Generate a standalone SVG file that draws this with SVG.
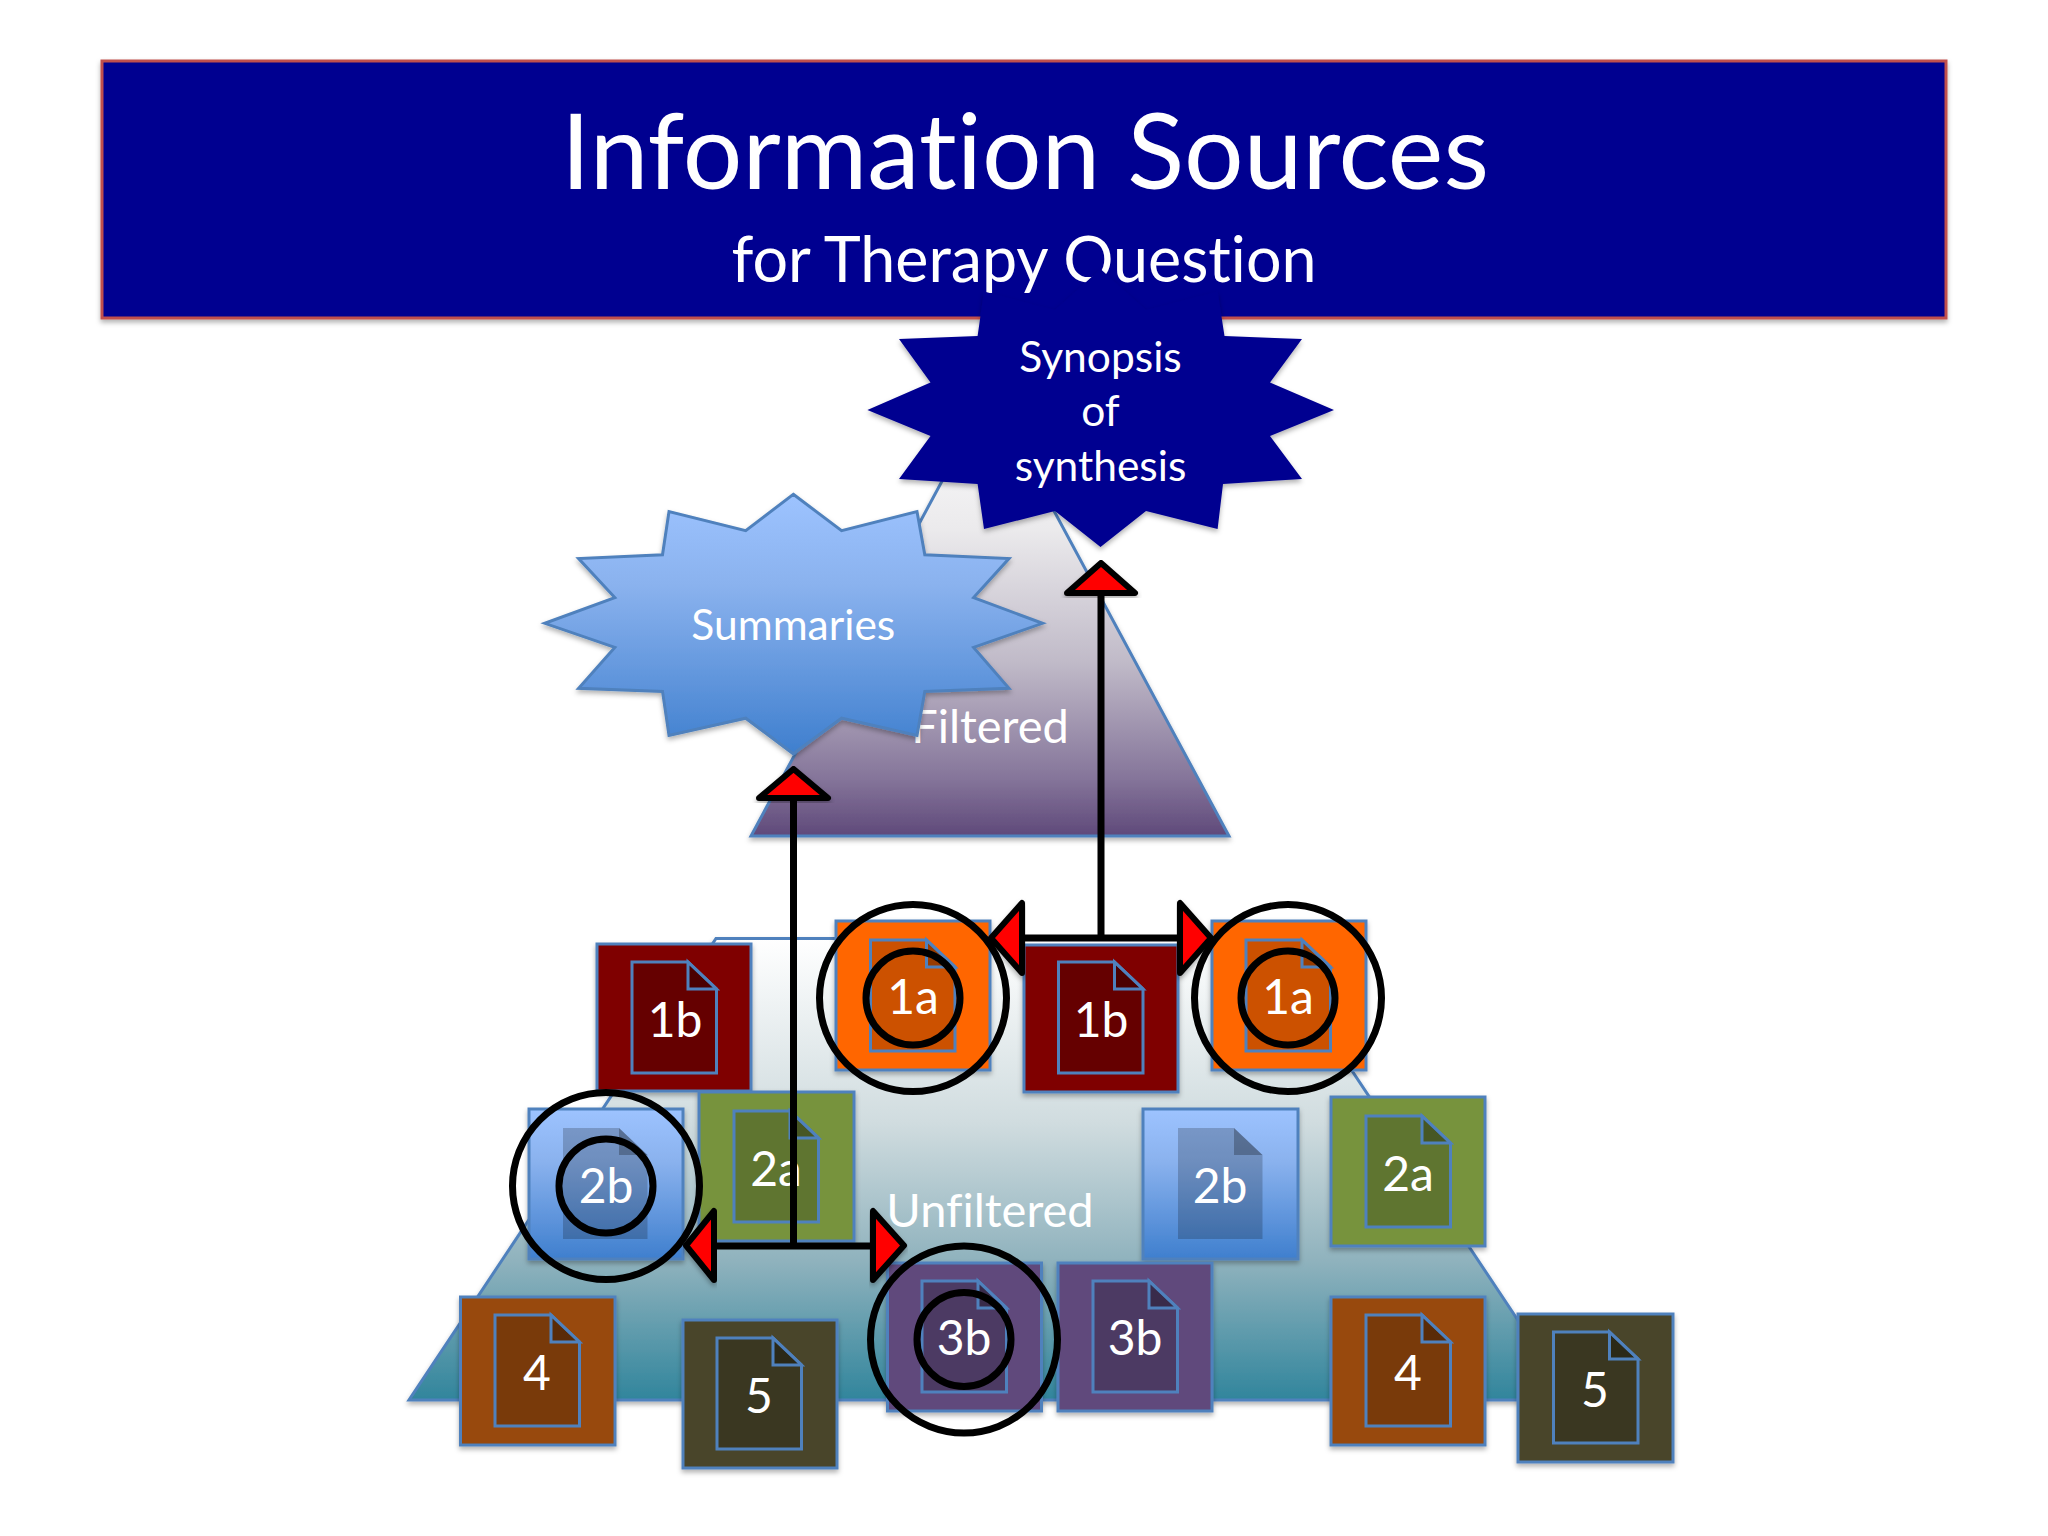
<svg xmlns="http://www.w3.org/2000/svg" width="2048" height="1536" viewBox="0 0 2048 1536">
<style>
text{font-family:"Lato","Carlito","Liberation Sans",sans-serif;fill:#fff;text-anchor:middle;font-variant-ligatures:none}
.lbl{font-size:48px}
.big{font-size:42.500px}
.tier{font-size:47px}
.box{stroke:#4f81bd;stroke-width:3;filter:url(#sh)}
.ring{fill:none;stroke:#000;stroke-width:7}
.line{fill:none;stroke:#000;stroke-width:7}
.head{fill:#f00;stroke:#000;stroke-width:6;stroke-linejoin:round;filter:url(#sh)}
.c1b{fill:#7f0000}.c1a{fill:#ff6600}.c2b{fill:url(#gb)}.c2a{fill:#77933c}.c3b{fill:#604a7b}.c4{fill:#984807}.c5{fill:#494429}
</style>
<defs>
<filter id="sh" x="-10%" y="-10%" width="120%" height="125%"><feDropShadow dx="0" dy="3" stdDeviation="2.5" flood-color="#000" flood-opacity="0.3"/></filter>
<linearGradient id="gb" x1="0" y1="0" x2="0" y2="1"><stop offset="0" stop-color="#9dc3ff"/><stop offset=".35" stop-color="#8ab2ee"/><stop offset="1" stop-color="#3f7fce"/></linearGradient>
<linearGradient id="gf" x1="0" y1="0" x2="0" y2="1"><stop offset="0" stop-color="#ffffff"/><stop offset=".31" stop-color="#ebeaec"/><stop offset=".61" stop-color="#c0bac8"/><stop offset=".87" stop-color="#85759a"/><stop offset="1" stop-color="#5f497a"/></linearGradient>
<linearGradient id="gu" x1="0" y1="0" x2="0" y2="1"><stop offset="0" stop-color="#ffffff"/><stop offset=".4" stop-color="#d0dcdf"/><stop offset=".7" stop-color="#8fb2bd"/><stop offset="1" stop-color="#31859c"/></linearGradient>
<g id="doc">
<path d="M0 0H56L84.500 27V111H0Z" fill="#000" fill-opacity=".2" stroke="#4f81bd" stroke-width="3"/>
<path d="M56 0V27H84.500Z" fill="#000" fill-opacity=".25" stroke="#4f81bd" stroke-width="3"/>
</g>
<g id="doc-plain">
<path d="M0 0H56L84.500 27V111H0Z" fill="#000" fill-opacity=".2"/>
<path d="M56 0V27H84.500Z" fill="#000" fill-opacity=".25"/>
</g>
</defs>
<rect width="2048" height="1536" fill="#fff"/>

<g id="pyramid-unfiltered">
<polygon points="716,938.500 1264,938.500 1571,1400 409,1400" fill="url(#gu)" stroke="#4f81bd" stroke-width="3" filter="url(#sh)"/>
<text class="tier" x="990" y="1227">Unfiltered</text>
</g>
<g id="pyramid-filtered">
<polygon points="990,392 1229,836 751,836" fill="url(#gf)" stroke="#4f81bd" stroke-width="3" filter="url(#sh)"/>
<text class="tier" x="990" y="743">Filtered</text>
</g>

<g id="banner">
<rect x="102" y="61" width="1844" height="257" fill="#000090" stroke="#c0504d" stroke-width="3" filter="url(#sh)"/>
<text x="1025" y="189" font-size="104" textLength="928" lengthAdjust="spacingAndGlyphs">Information Sources</text>
<text x="1024" y="282" font-size="63" textLength="585" lengthAdjust="spacingAndGlyphs">for Therapy Question</text>
</g>

<g id="star-synopsis">
<polygon points="1100.500,269 1146,310 1217.600,291.500 1224.500,336 1302,339 1270,382.600 1334,410 1270,436 1302,479 1223,484 1217.600,529 1146,511 1100.500,547 1055,511 984,529 977.600,484 899,479 930.500,436 867.400,410 930.500,382.600 899,339 977.600,336 984,291.500 1055,310" fill="#000090" filter="url(#sh)"/>
<text class="big" x="1100.500" y="372">Synopsis</text>
<text class="big" x="1100.500" y="426">of</text>
<text class="big" x="1100.500" y="481">synthesis</text>
</g>

<g id="star-summaries">
<polygon points="793.300,494.300 841.600,530.700 917,511.500 924.800,554.800 1009,558.600 973.600,597.600 1042.500,623.300 973.600,647.400 1009,688.300 924.800,691.400 917,735.400 841.600,718.200 793.300,753.800 745.700,718.200 669,735.400 662.500,691.400 578.600,688.300 614.800,647.400 544.800,623.300 614.800,597.600 578.600,558.600 662.500,554.800 669,511.500 745.700,530.700" fill="url(#gb)" stroke="#4f81bd" stroke-width="3" filter="url(#sh)"/>
<text class="big" x="793.300" y="640">Summaries</text>
</g>

<g id="doc-1b-left"><rect class="box c1b" x="597" y="944" width="154" height="147"/><use href="#doc" x="632" y="962"/><text class="lbl" x="675" y="1037">1b</text></g>
<g id="doc-1a-left"><rect class="box c1a" x="836" y="921" width="154" height="149"/><use href="#doc" x="870.500" y="940"/><text class="lbl" x="913" y="1014">1a</text></g>
<g id="doc-1b-mid"><rect class="box c1b" x="1024" y="945" width="154" height="147"/><use href="#doc" x="1058.500" y="962"/><text class="lbl" x="1101" y="1037">1b</text></g>
<g id="doc-1a-right"><rect class="box c1a" x="1212" y="921" width="154" height="149"/><use href="#doc" x="1246" y="940"/><text class="lbl" x="1288" y="1014">1a</text></g>
<g id="doc-2b-left"><rect class="box c2b" x="529" y="1109" width="154" height="150"/><use href="#doc-plain" x="563" y="1128"/><text class="lbl" x="606" y="1203">2b</text></g>
<g id="doc-2a-left"><rect class="box c2a" x="699" y="1092" width="155" height="149"/><use href="#doc" x="734" y="1111"/><text class="lbl" x="776" y="1186">2a</text></g>
<g id="doc-2b-right"><rect class="box c2b" x="1143" y="1109" width="155" height="150"/><use href="#doc-plain" x="1178" y="1128"/><text class="lbl" x="1220" y="1203">2b</text></g>
<g id="doc-2a-right"><rect class="box c2a" x="1331" y="1097" width="154" height="149"/><use href="#doc" x="1366" y="1116"/><text class="lbl" x="1408" y="1191">2a</text></g>
<g id="doc-3b-left"><rect class="box c3b" x="887.500" y="1263" width="154" height="148"/><use href="#doc" x="922" y="1281"/><text class="lbl" x="964" y="1355">3b</text></g>
<g id="doc-3b-right"><rect class="box c3b" x="1058" y="1263" width="154" height="148"/><use href="#doc" x="1093" y="1281"/><text class="lbl" x="1135" y="1355">3b</text></g>
<g id="doc-4-left"><rect class="box c4" x="460.500" y="1297" width="154.500" height="148"/><use href="#doc" x="495" y="1315"/><text class="lbl" x="537" y="1390">4</text></g>
<g id="doc-5-left"><rect class="box c5" x="683" y="1320" width="154" height="148"/><use href="#doc" x="717" y="1338"/><text class="lbl" x="759" y="1413">5</text></g>
<g id="doc-4-right"><rect class="box c4" x="1331" y="1297" width="154" height="148"/><use href="#doc" x="1366" y="1315"/><text class="lbl" x="1408" y="1390">4</text></g>
<g id="doc-5-right"><rect class="box c5" x="1518" y="1314" width="155" height="148"/><use href="#doc" x="1553.500" y="1332"/><text class="lbl" x="1595" y="1407">5</text></g>

<g id="rings">
<circle class="ring" cx="913" cy="998" r="93.500"/><circle class="ring" cx="913" cy="998" r="47"/>
<circle class="ring" cx="1288" cy="998" r="93.500"/><circle class="ring" cx="1288" cy="998" r="47"/>
<circle class="ring" cx="606" cy="1186" r="93.500"/><circle class="ring" cx="606" cy="1186" r="47"/>
<circle class="ring" cx="964" cy="1339.500" r="93.500"/><circle class="ring" cx="964" cy="1339.500" r="47"/>
</g>

<g id="connectors">
<path class="line" d="M793.500 1246V798M714 1246H873"/>
<path class="line" d="M1101 938V593M1022 938H1180"/>
<polygon class="head" points="793.500,769 828,798 759,798"/>
<polygon class="head" points="1101,563 1135,593 1067,593"/>
<polygon class="head" points="686,1245.500 714,1211 714,1280"/>
<polygon class="head" points="904,1245.500 873,1211 873,1280"/>
<polygon class="head" points="991,938 1022,903 1022,973"/>
<polygon class="head" points="1211,938 1180,903 1180,973"/>
</g>
</svg>
